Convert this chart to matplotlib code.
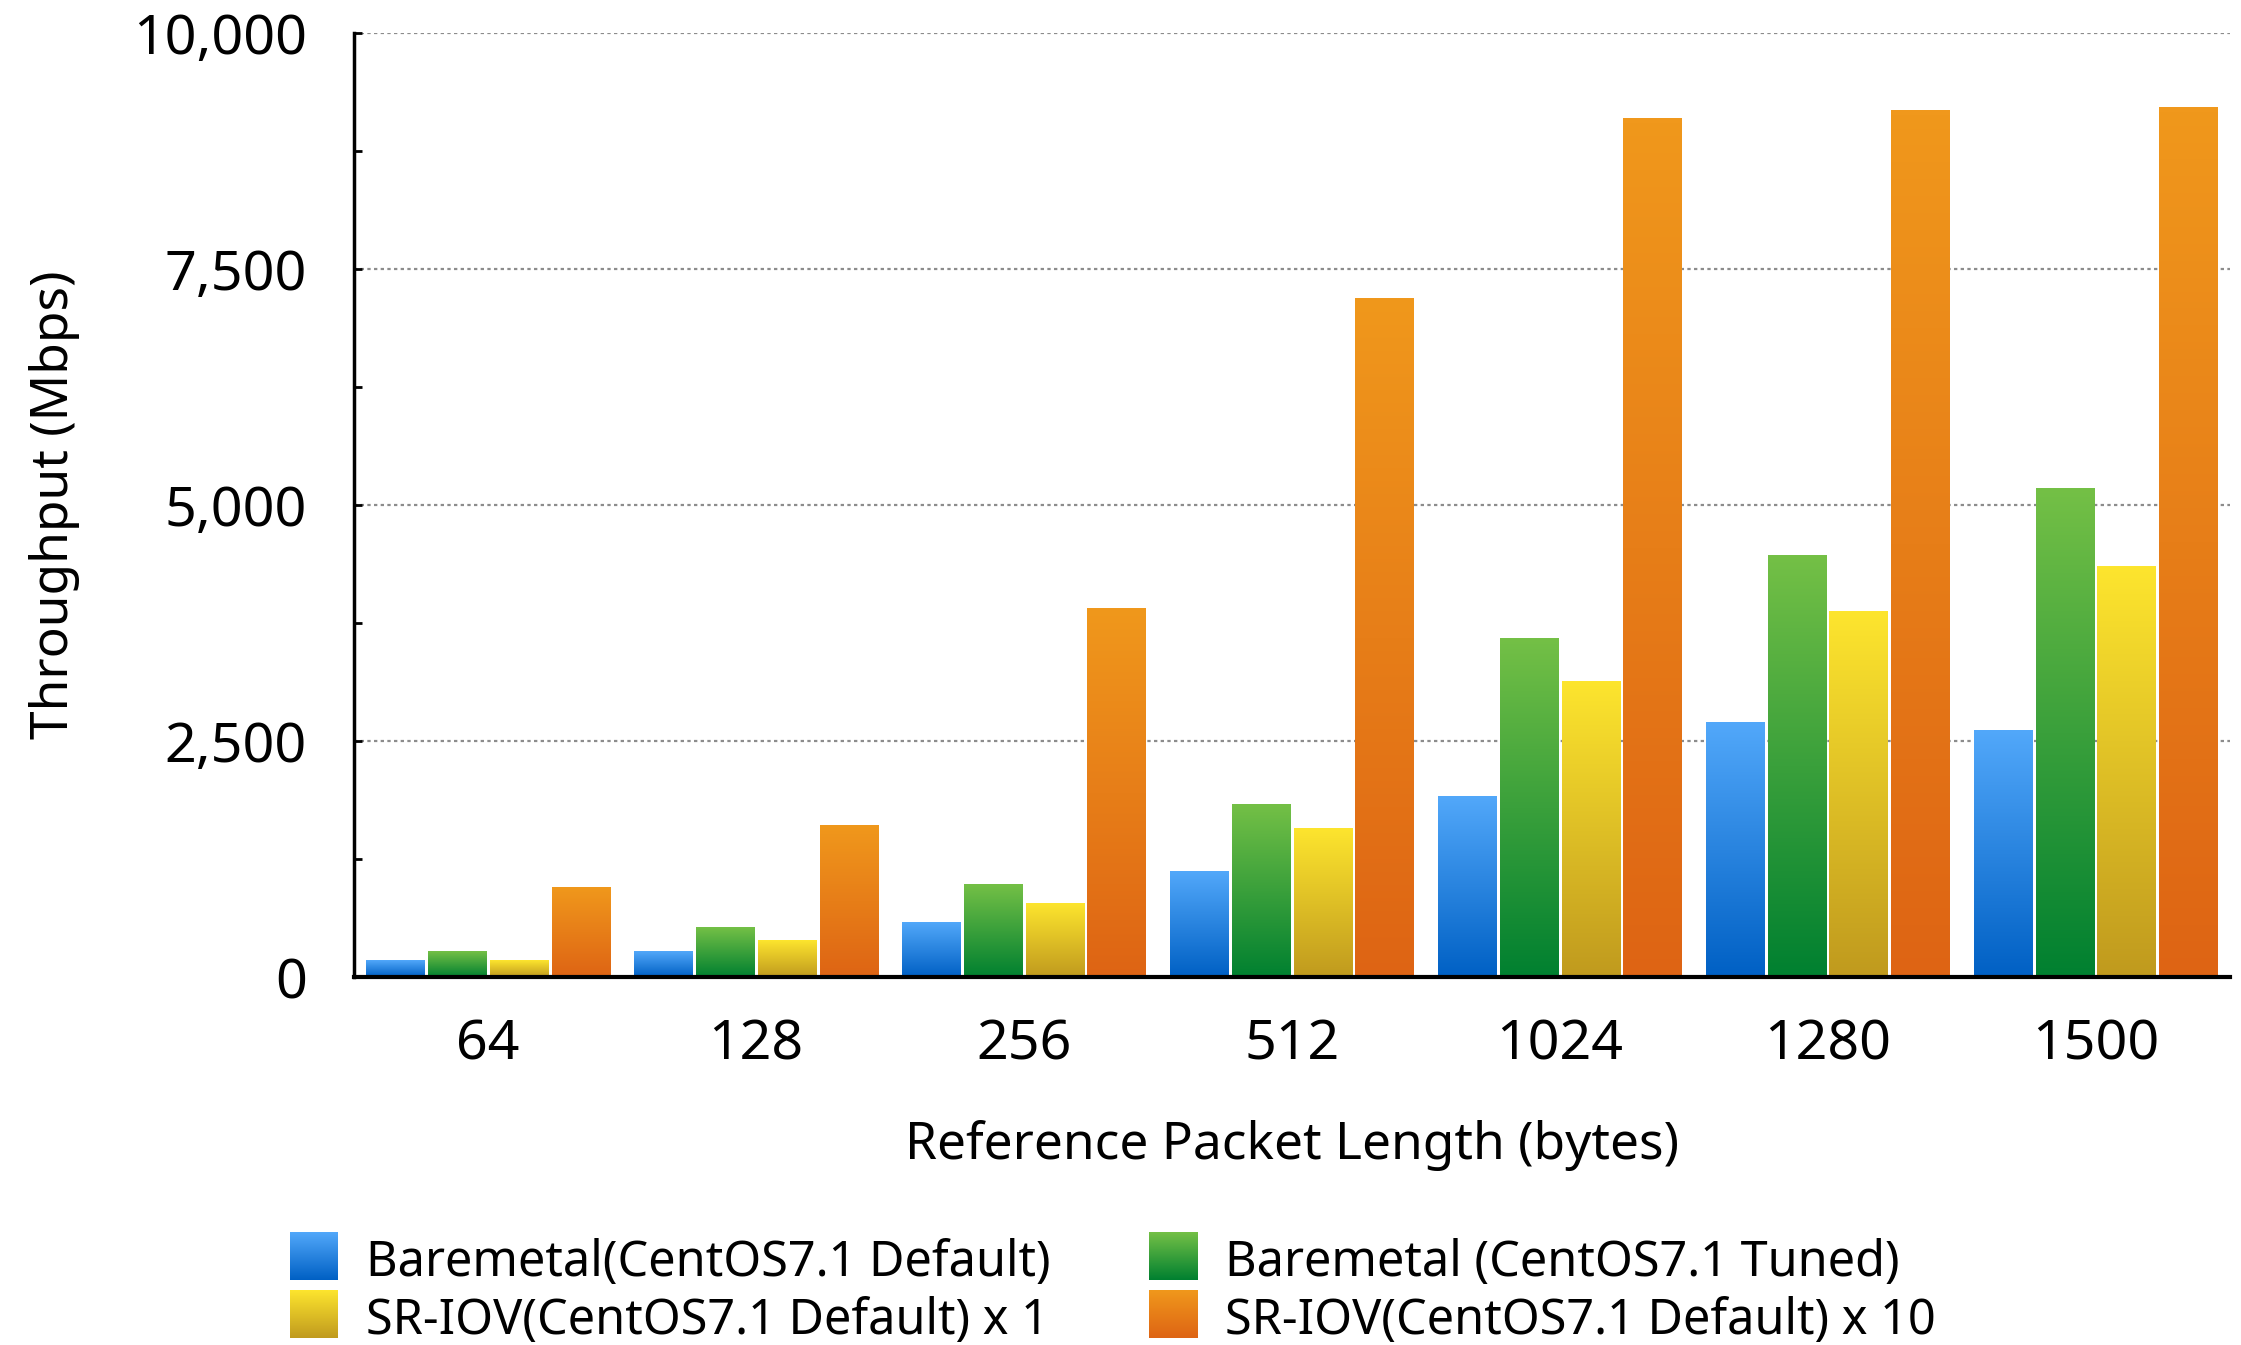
import numpy as np
import matplotlib
matplotlib.use("Agg")
import matplotlib.pyplot as plt
from matplotlib.colors import LinearSegmentedColormap

plt.rcParams['font.family'] = ['Noto Sans', 'DejaVu Sans']

# packet sizes and measured throughput (Mbps)
packet_sizes = ["64", "128", "256", "512", "1024", "1280", "1500"]
baremetal_default = [180, 265, 575, 1120, 1915, 2700, 2612]
baremetal_tuned = [265, 522, 980, 1830, 3588, 4469, 5175]
sriov_x1 = [180, 383, 778, 1570, 3125, 3875, 4350]
sriov_x10 = [948, 1600, 3900, 7190, 9090, 9172, 9204]

series = [baremetal_default, baremetal_tuned, sriov_x1, sriov_x10]
labels = ["Baremetal(CentOS7.1 Default)", "Baremetal (CentOS7.1 Tuned)",
          "SR-IOV(CentOS7.1 Default) x 1", "SR-IOV(CentOS7.1 Default) x 10"]
# (bottom colour, top colour) for each series gradient
grads = [("#0060c4", "#52a8fa"),
         ("#008030", "#74c046"),
         ("#c09a1e", "#fde52e"),
         ("#de6414", "#f0981c")]
cmaps = [LinearSegmentedColormap.from_list("g%d" % i, g) for i, g in enumerate(grads)]
ramp = np.linspace(0, 1, 256).reshape(-1, 1)

fig = plt.figure(figsize=(22.41, 13.45), dpi=100)
ax = fig.add_axes([0.158, 0.2736, 0.837, 0.702])

slot = 0.231
width = 0.219
x = np.arange(len(packet_sizes))
for i, vals in enumerate(series):
    offs = (i - 1.5) * slot
    bars = ax.bar(x + offs, vals, width, color="none", linewidth=0, zorder=3)
    for b in bars:
        x0 = b.get_x()
        ax.imshow(ramp, extent=[x0, x0 + b.get_width(), 0, b.get_height()], origin="lower",
                  aspect="auto", cmap=cmaps[i], zorder=2, interpolation="bilinear")

ax.set_xlim(-0.5, len(packet_sizes) - 0.5)
ax.set_ylim(0, 10000)
ax.set_yticks([0, 2500, 5000, 7500, 10000])
ax.set_yticklabels(["0", "2,500", "5,000", "7,500", "10,000"])
ax.set_yticks(np.arange(1250, 10000, 2500), minor=True)
ax.set_xticks(x)
ax.set_xticklabels(packet_sizes)
ax.tick_params(axis="y", which="both", direction="in", length=6, width=2, labelsize=40, pad=34)
ax.tick_params(axis="x", length=0, labelsize=40, pad=29)
ax.yaxis.grid(True, color="#8c8c8c", linestyle=(0, (1.5, 1.5)), linewidth=1.6, zorder=1)
ax.set_axisbelow(True)

for s in ["top", "right"]:
    ax.spines[s].set_visible(False)
ax.spines["left"].set_linewidth(2.5)
ax.spines["bottom"].set_linewidth(3)
ax.spines["left"].set_zorder(4)
ax.spines["bottom"].set_zorder(4)

ax.set_ylabel("Throughput (Mbps)", fontsize=37, labelpad=38)
ax.set_xlabel("Reference Packet Length (bytes)", fontsize=37, labelpad=34)

# legend drawn by hand so the swatches keep the gradient
W, H = 2241.0, 1345.0
spots = [(290, 1232), (1149, 1232), (290, 1290), (1149, 1290)]
for i, (px, py) in enumerate(spots):
    sw = fig.add_axes([px / W, 1 - (py + 48) / H, 48 / W, 48 / H])
    sw.imshow(ramp, origin="lower", aspect="auto", cmap=cmaps[i], extent=[0, 1, 0, 1])
    sw.axis("off")
    fig.text((px + 76) / W, 1 - (py + 31) / H, labels[i], fontsize=35, va="center", ha="left")

fig.savefig("out.png", dpi=100)
